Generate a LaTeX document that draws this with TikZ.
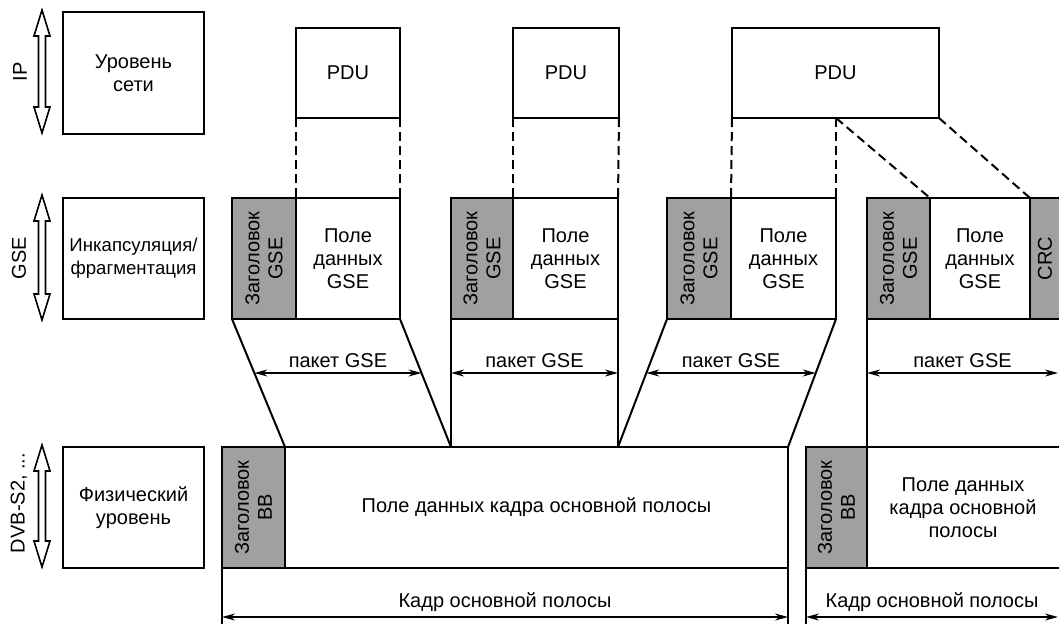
\documentclass[tikz,border=0pt]{standalone}
\usepackage{fontspec}
\setmainfont{Liberation Sans}
\usetikzlibrary{arrows.meta}
\definecolor{hdr}{RGB}{160,160,160}
\newcommand\dblarr[2]{%
  \draw[dbl] (42,#1) -- (50,#1+26) -- (45.5,#1+26) -- (45.5,#2-26) -- (50,#2-26) -- (42,#2)
    -- (34,#2-26) -- (38.5,#2-26) -- (38.5,#1+26) -- (34,#1+26) -- cycle;}
\begin{document}
\begin{tikzpicture}[x=1pt,y=-1pt,
  every node/.style={font=\fontsize{20}{23}\selectfont, inner sep=0pt, outer sep=0pt},
  blk/.style={draw, line width=2pt, align=center},
  hdrbox/.style={blk, fill=hdr},
  rot/.style={rotate=90, align=center},
  link/.style={line width=2pt},
  dsh/.style={line width=2pt, dash pattern=on 9pt off 5pt},
  dim/.style={line width=1.3pt, {Stealth[length=13pt,width=7pt]}-{Stealth[length=13pt,width=7pt]}},
  ext/.style={line width=1.3pt},
  dbl/.style={line width=1.6pt, fill=white, line join=miter}]
\path[use as bounding box] (0,0) rectangle (1059,624);
\clip (0,0) rectangle (1059,624);

% left column
\dblarr{10}{133}
\dblarr{195}{320}
\dblarr{445}{567}
\node[rotate=90] (lip) at (20,72) {IP};
\node[rotate=90] (lgse) at (19,258) {GSE};
\node[rotate=90] (ldvb) at (19,503) {DVB-S2, ...};
\node[blk, minimum width=141pt, minimum height=122pt] (ipb) at (133.5,73) {Уровень\\сети};
\node[blk, minimum width=141pt, minimum height=121pt, font=\fontsize{18.6}{23}\selectfont] (gseb) at (133.5,258.5) {Инкапсуляция/\\фрагментация};
\node[blk, minimum width=141pt, minimum height=121pt] (phyb) at (133.5,507.5) {Физический\\уровень};

% PDUs
\node[blk, minimum width=104pt, minimum height=90pt] (pdu1) at (348,73) {PDU};
\node[blk, minimum width=106pt, minimum height=90pt] (pdu2) at (566,73) {PDU};
\node[blk, minimum width=207pt, minimum height=90pt] (pdu3) at (835.5,73) {PDU};
\coordinate (pdu3m) at (836,118);

% GSE packets
\node[hdrbox, minimum width=64pt, minimum height=121pt] (g1h) at (264,258.5) {};
\node[rot] at (g1h) {Заголовок\\GSE};
\node[blk, minimum width=104pt, minimum height=121pt] (g1d) at (348,258.5) {Поле\\данных\\GSE};

\node[hdrbox, minimum width=62pt, minimum height=121pt] (g2h) at (482,258.5) {};
\node[rot] at (g2h) {Заголовок\\GSE};
\node[blk, minimum width=105pt, minimum height=121pt] (g2d) at (565.5,258.5) {Поле\\данных\\GSE};

\node[hdrbox, minimum width=64pt, minimum height=121pt] (g3h) at (699,258.5) {};
\node[rot] at (g3h) {Заголовок\\GSE};
\node[blk, minimum width=105pt, minimum height=121pt] (g3d) at (783.5,258.5) {Поле\\данных\\GSE};

\node[hdrbox, minimum width=63pt, minimum height=121pt] (g4h) at (898.5,258.5) {};
\node[rot] at (g4h) {Заголовок\\GSE};
\node[blk, minimum width=100pt, minimum height=121pt] (g4d) at (980,258.5) {Поле\\данных\\GSE};
\node[hdrbox, minimum width=40pt, minimum height=121pt] (g4c) at (1050,258.5) {};
\node[rot] at (1045,258.5) {CRC};

% dashed links
\draw[dsh] (pdu1.south west) -- (g1d.north west);
\draw[dsh] (pdu1.south east) -- (g1d.north east);
\draw[dsh] (pdu2.south west) -- (g2d.north west);
\draw[dsh] (pdu2.south east) -- (g2d.north east);
\draw[dsh] (pdu3.south west) -- (g3d.north west);
\draw[dsh] (pdu3m) -- (g3d.north east);
\draw[dsh] (pdu3m) -- (g4d.north west);
\draw[dsh] (pdu3.south east) -- (g4d.north east);

% baseband frames
\node[hdrbox, minimum width=63pt, minimum height=121pt] (bb1) at (253.5,507.5) {};
\node[rot] at (bb1) {Заголовок\\BB};
\node[blk, minimum width=503pt, minimum height=121pt] (fd1) at (536.5,507.5) {Поле данных кадра основной полосы};

\node[hdrbox, minimum width=61pt, minimum height=121pt] (bb2) at (836.5,507.5) {};
\node[rot] at (bb2) {Заголовок\\BB};
\node[blk, minimum width=205pt, minimum height=121pt] (fd2) at (969.5,507.5) {};
\node[align=center] at (963,507.5) {Поле данных\\кадра основной\\полосы};

\coordinate (c1) at (451,447);
\coordinate (c2) at (618,447);

% trapezoid links
\draw[link] (g1h.south west) -- (bb1.north east);
\draw[link] (g1d.south east) -- (c1);
\draw[link] (g2h.south west) -- (c1);
\draw[link] (g2d.south east) -- (c2);
\draw[link] (g3h.south west) -- (c2);
\draw[link] (g3d.south east) -- (fd1.north east);
\draw[link] (g4h.south west) -- (bb2.north east);

% packet dimension arrows
\coordinate (a1l) at (254.4,373); \coordinate (a1r) at (421.5,373);
\coordinate (a2l) at (451,373);   \coordinate (a2r) at (618,373);
\coordinate (a3l) at (646.3,373); \coordinate (a3r) at (815.7,373);
\coordinate (a4l) at (867,373);   \coordinate (a4r) at (1058,373);
\draw[dim] (a1l) -- node[above=5pt] {пакет GSE} (a1r);
\draw[dim] (a2l) -- node[above=5pt] {пакет GSE} (a2r);
\draw[dim] (a3l) -- node[above=5pt] {пакет GSE} (a3r);
\draw[dim] (a4l) -- node[above=5pt] {пакет GSE} (a4r);

% frame dimension
\coordinate (e1) at (222,624); \coordinate (e2) at (788,624); \coordinate (e3) at (806,624);
\draw[ext] (bb1.south west) -- (e1);
\draw[ext] (fd1.south east) -- (e2);
\draw[ext] (bb2.south west) -- (e3);
\coordinate (f1l) at (222,617); \coordinate (f1r) at (788,617);
\coordinate (f2l) at (806,617); \coordinate (f2r) at (1058,617);
\draw[dim] (f1l) -- node[above=5pt] {Кадр основной полосы} (f1r);
\draw[dim] (f2l) -- node[above=5pt] {Кадр основной полосы} (f2r);
\end{tikzpicture}
\end{document}
